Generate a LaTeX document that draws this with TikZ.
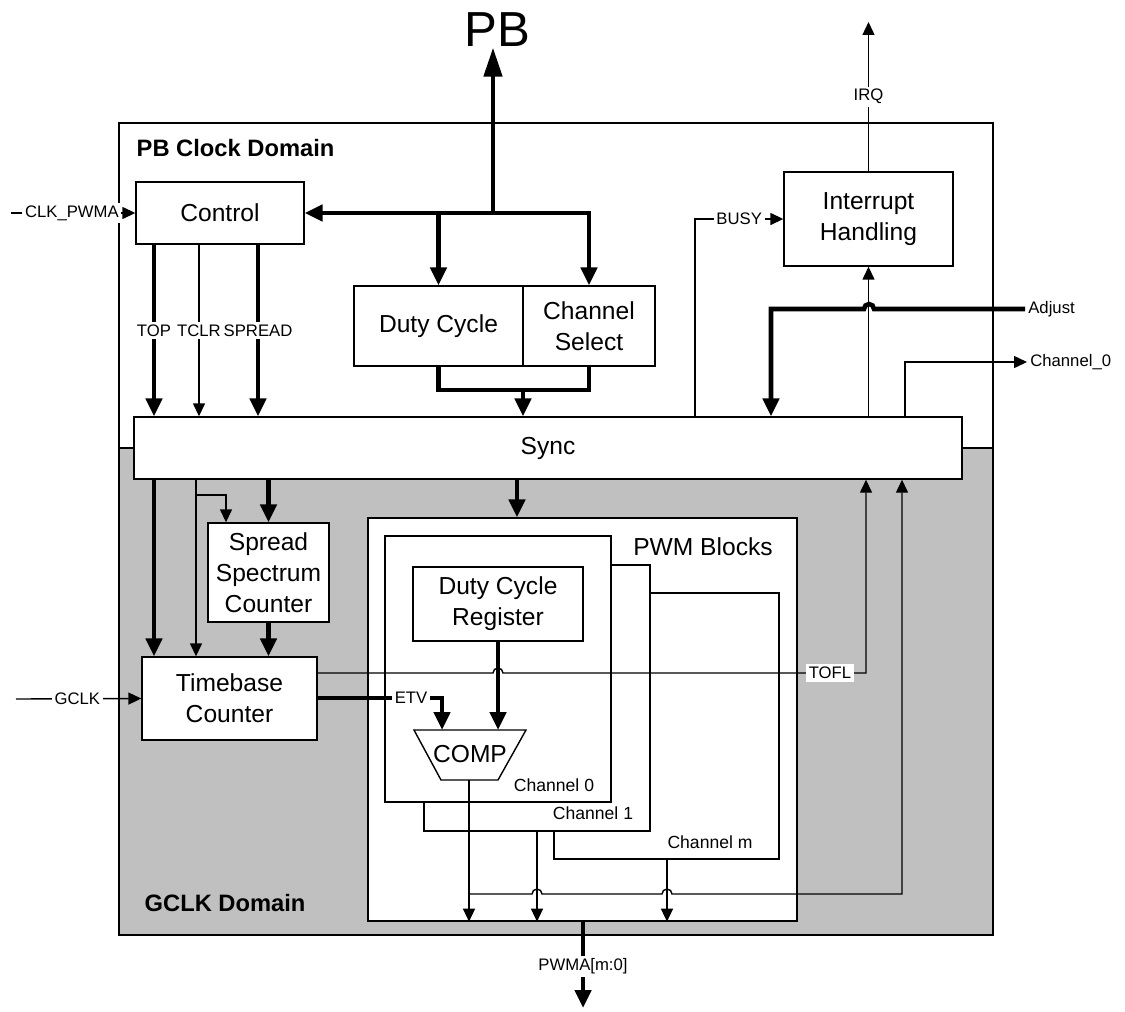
\documentclass[tikz,border=0pt]{standalone}
\usepackage{fontspec}
\setmainfont{Liberation Sans}
\usetikzlibrary{arrows.meta,positioning,calc}
\definecolor{domaingray}{RGB}{192,192,192}

\begin{document}
\begin{tikzpicture}[
    x=0.02cm, y=-0.02cm, line width=0.8pt,
    blk/.style={rectangle, draw, fill=white, align=center, inner sep=2pt,
                font=\fontsize{14}{17.5}\selectfont},
    sig/.style={font=\fontsize{9.5}{11}\selectfont, inner sep=1.5pt},
    lbl/.style={sig, fill=white},
    chlbl/.style={font=\fontsize{10}{12}\selectfont, inner sep=0pt},
    domlbl/.style={font=\bfseries\fontsize{13.5}{16}\selectfont, anchor=west, inner sep=0pt},
    thn/.style={-{Triangle[length=0.26cm, width=0.24cm]}},
    thk/.style={line width=2.6pt},
    thkarr/.style={thk, -{Triangle[length=0.36cm, width=0.32cm]}},
    pbarr/.style={thk, -{Triangle[length=0.58cm, width=0.36cm]}}
]
    \useasboundingbox (0,0) rectangle (1125,1011);

    % clock domains
    \draw[fill=domaingray] (119,448) rectangle (993,935);
    \draw (119,123) rectangle (993,448);
    \node[domlbl] (pbdom) at (136,148) {PB Clock Domain};
    \node[domlbl] (gclkdom) at (144,903) {GCLK Domain};

    \node[font=\fontsize{28}{30}\selectfont, inner sep=0pt] (pb) at (497,30) {PB};

    \node[blk, minimum width=3.36cm, minimum height=1.24cm] (ctrl) at (220,213) {Control};
    \node[blk, minimum width=3.38cm, minimum height=1.6cm] (duty) at (438.5,326) {Duty Cycle};
    \node[blk, minimum width=2.64cm, minimum height=1.6cm] (chsel) at (589,326) {Channel\\Select};
    \node[blk, minimum width=3.38cm, minimum height=1.88cm] (inth) at (868.5,219) {Interrupt\\Handling};
    \node[blk, minimum width=16.56cm, minimum height=1.24cm] (sync) at (548,448) {Sync};
    \node[blk, minimum width=2.42cm, minimum height=1.98cm] (spread) at (268.5,572.5) {Spread\\Spectrum\\Counter};
    \node[blk, minimum width=3.5cm, minimum height=1.66cm] (tbc) at (229.5,698.5) {Timebase\\Counter};

    % PWM blocks
    \node[blk, minimum width=8.58cm, minimum height=8.06cm] (pwm) at (582.5,719.5) {};
    \node[font=\fontsize{14}{16}\selectfont, inner sep=0pt] (pwmlbl) at (703,547) {PWM Blocks};
    \node[blk, minimum width=4.5cm, minimum height=5.32cm] (chm) at (666.5,726) {};
    \node[blk, minimum width=4.52cm, minimum height=5.32cm] (ch1) at (537,698) {};
    \node[blk, minimum width=4.52cm, minimum height=5.32cm] (ch0) at (498,669) {};
    \node[chlbl] (chmlbl) at (710,842) {Channel m};
    \node[chlbl] (ch1lbl) at (593,813) {Channel 1};
    \node[chlbl] (ch0lbl) at (554,785) {Channel 0};
    \node[blk, minimum width=3.4cm, minimum height=1.48cm] (dcr) at (498,604) {Duty Cycle\\Register};

    \draw[fill=white] (414,730) -- (526,730) -- (498,780) -- (441,780) -- cycle;
    \node[font=\fontsize{14}{16}\selectfont, inner sep=0pt] (comp) at (470,754) {COMP};
    \coordinate (compl) at (442,730);
    \coordinate (compr) at (498,730);
    \coordinate (compout) at (469,780);

    % PB bus
    \coordinate (pbj) at (493,213);
    \draw[thkarr] (pbj) -- (ctrl.east);
    \draw[thkarr] (duty.north |- pbj) -- (duty.north);
    \draw[thkarr] (pbj) -| (chsel.north);
    \draw[pbarr] (pbj) -- (pb.south -| pbj);

    \coordinate (mrg) at (523,390);
    \draw[thk] (duty.south) |- (mrg) -| (chsel.south);
    \draw[thkarr] (mrg) -- (mrg |- sync.north);

    \foreach \x/\s/\t in {154/thkarr/TOP, 199/thn/TCLR, 258/thkarr/SPREAD}
        \draw[\s] (ctrl.south -| \x,0) -- (sync.north -| \x,0) node[lbl, pos=0.5] {\t};

    \draw[thn] (11,213) -- (ctrl.west) node[lbl, pos=0.49] {CLK\_PWMA};
    \draw[thn] (16,699) -- (tbc.west) node[lbl, pos=0.49] {GCLK};

    % interrupt and outputs
    \draw[thn] (sync.north -| 695,0) |- (inth.west) node[lbl, pos=0.75] {BUSY};
    \draw[thn] (sync.north -| inth.south) -- (inth.south);
    \draw[thn] (inth.north) -- (inth.north |- 0,22) node[lbl, pos=0.5] {IRQ};

    \node[sig, anchor=west] (adj) at (1025,309) {Adjust};
    \draw[thkarr] (adj.west) -- (874,309) arc[start angle=0, end angle=180, radius=0.1cm]
        -- (771,309) -- (sync.north -| 771,0);

    \node[sig, anchor=west] (ch0out) at (1027,362) {Channel\_0};
    \draw[thn] (sync.north -| 905,0) |- (ch0out.west);

    % GCLK domain
    \draw[thkarr] (sync.south -| 154,0) -- (tbc.north -| 154,0);
    \draw[thn] (sync.south -| 196,0) -- (tbc.north -| 196,0);
    \draw[thn] (196,495) -| (spread.north -| 226,0);
    \draw[thkarr] (sync.south -| spread.north) -- (spread.north);
    \draw[thkarr] (spread.south) -- (tbc.north -| spread.south);
    \draw[thkarr] (sync.south -| 517,0) -- (pwm.north -| 517,0);

    \draw[thkarr] (tbc.east |- 0,698) -| (compl);
    \node[lbl] (etv) at (411,698) {ETV};
    \draw[thkarr] (dcr.south) -- (compr);

    \draw[thn] (tbc.east |- 0,673) -- (493,673) arc[start angle=180, end angle=0, radius=0.1cm]
        -- (866,673) -- (sync.south -| 866,0);
    \node[lbl] (tofl) at (830,673) {TOFL};

    \draw[thn] (compout) -- (pwm.south -| compout);
    \draw[thn] (ch1.south -| 537,0) -- (pwm.south -| 537,0);
    \draw[thn] (chm.south -| 667,0) -- (pwm.south -| 667,0);
    \draw[thn] (469,894) -- (532,894) arc[start angle=180, end angle=0, radius=0.1cm]
        -- (662,894) arc[start angle=180, end angle=0, radius=0.1cm]
        -- (902,894) -- (sync.south -| 902,0);

    \draw[thkarr] (pwm.south -| 583,0) -- (583,1008) node[lbl, pos=0.52] {PWMA[m:0]};
\end{tikzpicture}
\end{document}
